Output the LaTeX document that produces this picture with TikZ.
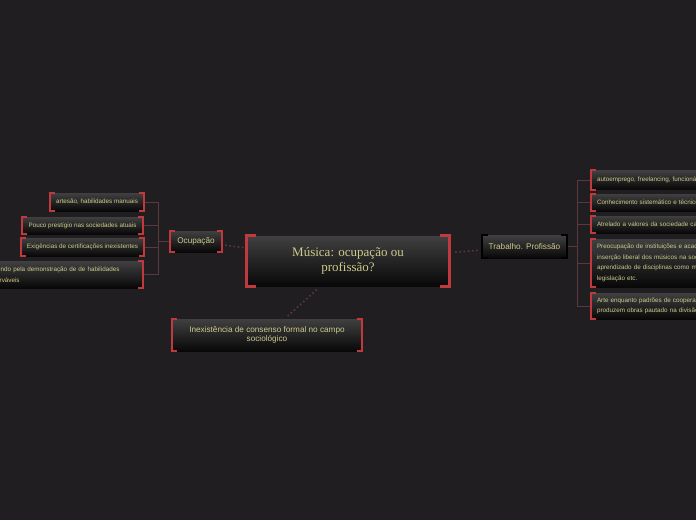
\documentclass[tikz,border=0pt]{standalone}
\usepackage{fontspec}
\setmainfont{Liberation Sans}
\newfontfamily\titlefont{Liberation Serif}
\definecolor{bg}{RGB}{32,30,32}
\definecolor{brk}{RGB}{192,57,60}
\definecolor{lnk}{RGB}{90,56,62}
\definecolor{txt}{RGB}{205,203,140}
\definecolor{boxtop}{RGB}{64,64,64}
\definecolor{boxbot}{RGB}{8,8,8}
\newcommand\bracketnode[3]{%
  \draw[#3] ([xshift=#2]#1.north west) -- (#1.north west) -- (#1.south west) -- ([xshift=#2]#1.south west);
  \draw[#3] ([xshift=-#2]#1.north east) -- (#1.north east) -- (#1.south east) -- ([xshift=-#2]#1.south east);}
\begin{document}
\begin{tikzpicture}[x=1pt,y=-1pt,
  mbox/.style={rectangle, inner xsep=6pt, inner ysep=0pt, top color=boxtop, bottom color=boxbot,
    text=txt, font=\fontsize{6.3}{10.5}\selectfont},
  bigtext/.style={font=\fontsize{8.2}{9.5}\selectfont},
  redbrk/.style={draw=brk, line width=1.8pt, line join=miter},
  blackbrk/.style={draw=black, line width=2.4pt, line join=miter},
  link/.style={draw=lnk, line width=0.9pt},
  dotlink/.style={draw=lnk, line width=1.6pt, dash pattern=on 1.6pt off 2.6pt}]
\fill[bg] (0,0) rectangle (696,520);
\useasboundingbox (0,0) rectangle (696,520);
\clip (0,0) rectangle (696,520);

% main nodes
\node[mbox, minimum width=202pt, minimum height=50pt, align=center,
  font=\titlefont\fontsize{13}{15}\selectfont] (c) at (348,261) {Música: ocupação ou\\profissão?};
\node[mbox, bigtext, minimum width=52pt, minimum height=21pt] (ocup) at (196,241.5) {Ocupação};
\node[mbox, bigtext, minimum width=85pt, minimum height=23pt] (trab) at (524.5,246.5) {Trabalho. Profissão};
\node[mbox, bigtext, minimum width=190pt, minimum height=32pt, align=center] (bot) at (267,335)
  {Inexistência de consenso formal no campo\\sociológico};

% left children
\node[mbox, minimum width=92pt, minimum height=18pt] (L1) at (97,202) {artesão, habilidades manuais};
\node[mbox, minimum width=121pt, minimum height=17pt] (L2) at (82.5,225.5) {Pouco prestígio nas sociedades atuais};
\node[mbox, minimum width=121pt, minimum height=18pt] (L3) at (82.5,247) {Exigências de certificações inexistentes};
\node[mbox, text width=151pt, minimum height=27pt, align=left] (L4) at (61.5,274.5)
  {Segundo pela demonstração de de habilidades\\observáveis};

% right children
\node[mbox, text width=188pt, minimum height=19pt, align=left] (R1) at (691,180)
  {autoemprego, freelancing, funcionário público};
\node[mbox, text width=188pt, minimum height=17pt, align=left] (R2) at (691,202.5)
  {Conhecimento sistemático e técnico};
\node[mbox, text width=188pt, minimum height=17pt, align=left] (R3) at (691,224.5)
  {Atrelado a valores da sociedade capitalista};
\node[mbox, text width=188pt, minimum height=48pt, align=left] (R4) at (691,263)
  {Preocupação de instituições e acadêmicos com a\\inserção liberal dos músicos na sociedade,\\aprendizado de disciplinas como marketing,\\legislação etc.};
\node[mbox, text width=188pt, minimum height=26pt, align=left] (R5) at (691,306)
  {Arte enquanto padrões de cooperação que\\produzem obras pautado na divisão do trabalho};

% tree connectors
\coordinate (lj) at (158,241.5);
\draw[link] (ocup.west) -- (lj);
\foreach \n in {L1,L2,L3,L4} \draw[link] (lj) |- (\n.east);
\coordinate (rj) at (577,246.5);
\draw[link] (trab.east) -- (rj);
\foreach \n in {R1,R2,R3,R4,R5} \draw[link] (rj) |- (\n.west);

% dotted connectors from the centre
\draw[dotlink, shorten <=3pt, shorten >=3pt] (ocup) -- (c);
\draw[dotlink, shorten <=6pt, shorten >=3pt] (c) -- (trab);
\draw[dotlink, shorten <=5pt, shorten >=4pt] (c) -- (bot);

% brackets
\bracketnode{c}{9pt}{draw=brk, line width=3pt, line join=miter}
\foreach \n in {ocup,bot,L1,L2,L3,L4,R1,R2,R3,R4,R5} {\bracketnode{\n}{5pt}{redbrk}}
\bracketnode{trab}{6pt}{blackbrk}
\end{tikzpicture}
\end{document}
